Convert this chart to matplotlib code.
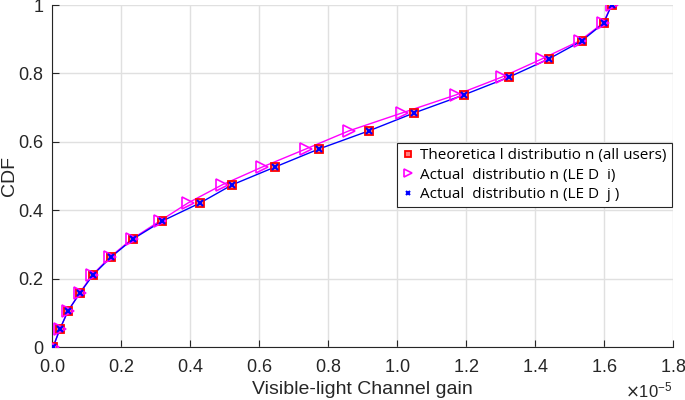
import numpy as np
import matplotlib
matplotlib.use("Agg")
import matplotlib.pyplot as plt
from matplotlib.ticker import ScalarFormatter

plt.rcParams['font.family'] = ['Liberation Sans', 'DejaVu Sans']

# CDF levels (20 points)
cdf = [0, 0.053, 0.105, 0.158, 0.211, 0.263, 0.316, 0.368, 0.421, 0.474,
       0.526, 0.579, 0.632, 0.684, 0.737, 0.789, 0.842, 0.895, 0.947, 1.0]

# channel gain, units of 1e-5
gain_theory = [0.003, 0.023, 0.046, 0.081, 0.119, 0.171, 0.235, 0.319, 0.429, 0.522,
               0.646, 0.774, 0.919, 1.049, 1.194, 1.325, 1.44, 1.536, 1.60, 1.623]
gain_led_i = [0.003, 0.023, 0.046, 0.080, 0.117, 0.168, 0.232, 0.312, 0.394, 0.493,
              0.609, 0.736, 0.861, 1.014, 1.171, 1.304, 1.420, 1.530, 1.598, 1.623]
gain_led_j = gain_theory

g_t = np.array(gain_theory) * 1e-5
g_i = np.array(gain_led_i) * 1e-5
g_j = np.array(gain_led_j) * 1e-5

fig = plt.figure(figsize=(6.85, 4), dpi=100)
ax = fig.add_axes([0.076, 0.1325, 0.906, 0.855])

txt = '#262626'

ax.plot(g_i, cdf, color='#ff00ff', lw=1, zorder=2)
ax.plot(g_j, cdf, color='#0000ff', lw=1, zorder=2)

ax.plot(g_t, cdf, ls='none', marker='s', ms=6, mfc='#ff8080', mec='#ff0000', mew=1.3,
        label='Theoretica l distributio n (all users)', zorder=3)
ax.plot(g_i, cdf, ls='none', marker='>', ms=9, mfc='none', mec='#ff00ff', mew=1.2,
        label='Actual  distributio n (LE D  i)', zorder=4)
ax.plot(g_j, cdf, ls='none', marker='x', ms=5, mec='#0000ff', mew=1.5,
        label='Actual  distributio n (LE D  j )', zorder=5)

ax.set_xlim(0, 1.8e-5)
ax.set_ylim(0, 1)
ax.set_xticks(np.arange(0, 1.81, 0.2) * 1e-5)
ax.set_yticks(np.arange(0, 1.01, 0.2))

fmt = ScalarFormatter(useMathText=True)
fmt.set_powerlimits((0, 0))
ax.xaxis.set_major_formatter(fmt)
ax.set_yticklabels(['0', '0.2', '0.4', '0.6', '0.8', '1'])

ax.grid(True, color='#e0e0e0', lw=1)
ax.set_axisbelow(True)
ax.spines['top'].set_visible(False)
ax.spines['right'].set_visible(False)
for s in ('left', 'bottom'):
    ax.spines[s].set_color(txt)
ax.tick_params(direction='in', length=5, colors=txt, labelsize=13)
ax.tick_params(axis='x', pad=9)
ax.tick_params(axis='y', pad=6)
ax.xaxis.get_offset_text().set_fontsize(12)
ax.xaxis.get_offset_text().set_color(txt)

ax.set_xlabel('Visible-light Channel gain', fontsize=14, color=txt, labelpad=3)
ax.set_ylabel('CDF', fontsize=14, color=txt)
ax.yaxis.label.set_va('center')
ax.yaxis.set_label_coords(-0.068, 0.5)

leg = ax.legend(loc='upper left', bbox_to_anchor=(0.543, 0.62),
                prop={'family': ['Open Sans', 'DejaVu Sans'], 'size': 11},
                frameon=True, fancybox=False, edgecolor=txt, handlelength=0.8,
                handletextpad=0.4, borderpad=0.35, labelspacing=0.3, framealpha=1,
                markerscale=0.7)
leg.get_frame().set_linewidth(0.8)

fig.savefig('out.png', dpi=100)
